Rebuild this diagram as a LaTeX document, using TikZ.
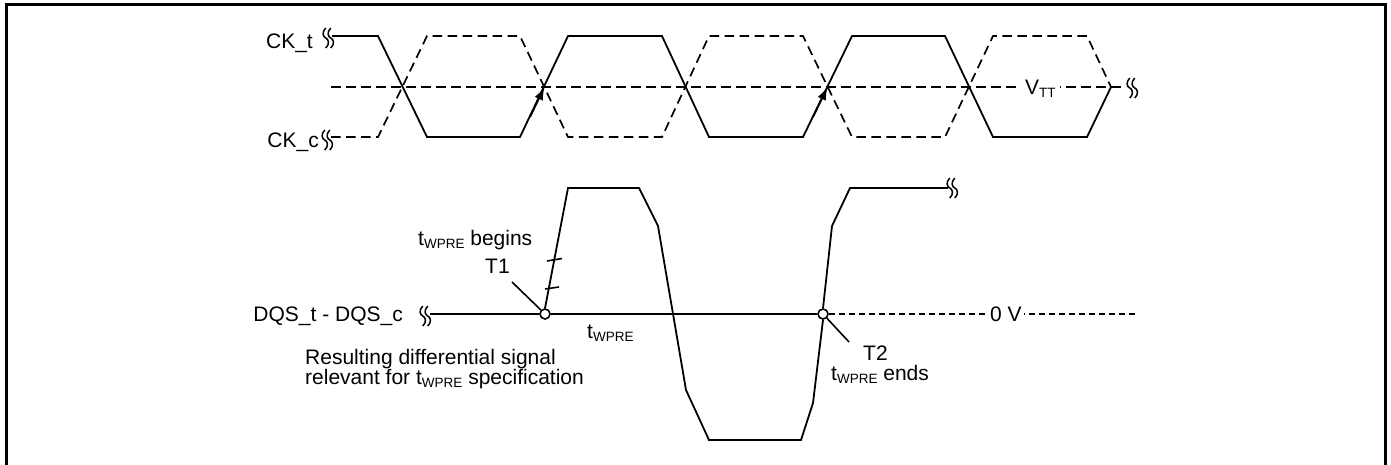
\documentclass[tikz,border=0pt]{standalone}
\usepackage{fontspec}
\setmainfont{Liberation Sans}
\usetikzlibrary{arrows.meta}
\newcommand{\lowsub}[1]{\raisebox{-3pt}{\fontsize{13.5}{14}\selectfont #1}}
\tikzset{
  brkpic/.pic={
    \draw[line width=1.5pt] (-2.2,-10) .. controls (-6.5,-6) and (-5,-1) .. (-2.2,0) .. controls (0.5,1) and (2,6) .. (-2.2,10);
    \draw[line width=1.5pt] (2.8,-10) .. controls (-1.5,-6) and (0,-1) .. (2.8,0) .. controls (5.5,1) and (7,6) .. (2.8,10);
  }
}
\begin{document}
\begin{tikzpicture}[x=1pt,y=-1pt,
  sig/.style={line width=1.8pt, line join=miter},
  dsig/.style={line width=1.7pt, dash pattern=on 9.5pt off 5.5pt},
  zdash/.style={line width=1.6pt, dash pattern=on 6.5pt off 3.5pt},
  lbl/.style={font=\fontsize{21}{25}\selectfont, inner sep=0pt},
  dot/.style={circle, draw, fill=white, line width=1.6pt, minimum size=10pt, inner sep=0pt},
  arr/.style={line width=1.8pt, -{Latex[length=13pt,width=9pt]}},
  lead/.style={line width=1.6pt}]
\useasboundingbox (0,0) rectangle (1391,464);
% frame
\draw[line width=2.6pt] (6.5,475) -- (6.5,4.7) -- (1385.5,4.7) -- (1385.5,475);

% ---------- clock ----------
\node[lbl, anchor=base east] (ckt) at (313,48) {CK\_t};
\node[lbl, anchor=base east] (ckc) at (319,147) {CK\_c};
\pic at (328,38) {brkpic};
\pic at (327,140) {brkpic};
\pic at (1132,88) {brkpic};

% mid reference line
\coordinate (ml) at (331,87);
\coordinate (mr) at (1126,87);
\draw[dsig] (ml) -- (mr);
\node[lbl, fill=white, inner xsep=4pt, inner ysep=3pt, anchor=base west] (vtt) at (1021,94) {V\lowsub{TT}};

% CK_t (solid)
\draw[sig] (332,36) -- (378,36) -- (427,137) -- (520,137) -- (568,36) -- (662,36) -- (709,137)
  -- (803,137) -- (852,36) -- (945,36) -- (993,137) -- (1087,137) -- (1111,87);
% CK_c (dashed)
\draw[dsig] (331,137) -- (378,137) -- (427,36) -- (520,36) -- (568,137) -- (662,137) -- (709,36)
  -- (803,36) -- (852,137) -- (945,137) -- (993,36) -- (1087,36) -- (1111,87);
% arrows at rising crossings
\coordinate (x1) at (544.5,87);
\coordinate (x2) at (827.5,87);
\draw[arr] (530,117) -- (x1);
\draw[arr] (813,117) -- (x2);

% ---------- DQS ----------
\node[lbl, anchor=base east] (dqs) at (403,321) {DQS\_t - DQS\_c};
\pic at (425,316) {brkpic};
\pic at (952,188) {brkpic};

\node[dot] (T1) at (545,314) {};
\node[dot] (T2) at (823,314) {};

% zero line
\draw[sig] (430,314) -- (T1) -- (T2);
\draw[zdash] (T2) -- (1135,314);
\node[lbl, fill=white, inner xsep=2pt, inner ysep=3pt, anchor=base west] (zv) at (988,321) {0 V};

% differential signal
\draw[sig] (T1.north) -- (568,188) -- (639,188) -- (658,226) -- (686,390) -- (709,440) -- (801,440)
  -- (813,403) -- (T2.south) (T2.north) -- (832,226) -- (850,188) -- (948,188);

% tick marks on rising edge
\draw[lead] (545,289) -- (559,287);
\draw[lead] (547,261) -- (562,258.5);

% labels
\node[lbl, anchor=base west] (beg) at (418,245) {t\lowsub{WPRE} begins};
\node[lbl, anchor=base west] (t1l) at (485,273) {T1};
\coordinate (t1a) at (512,282);
\draw[lead] (t1a) -- (T1);
\node[lbl, anchor=base west] (tw) at (587,338) {t\lowsub{WPRE}};
\node[lbl, anchor=base west] (t2l) at (863,360) {T2};
\coordinate (t2a) at (849,342);
\draw[lead] (T2) -- (t2a);
\node[lbl, anchor=base west] (ends) at (831,380) {t\lowsub{WPRE} ends};
\node[lbl, anchor=base west] (res1) at (305,364) {Resulting differential signal};
\node[lbl, anchor=base west] (res2) at (305,384) {relevant for t\lowsub{WPRE} specification};
\end{tikzpicture}
\end{document}
